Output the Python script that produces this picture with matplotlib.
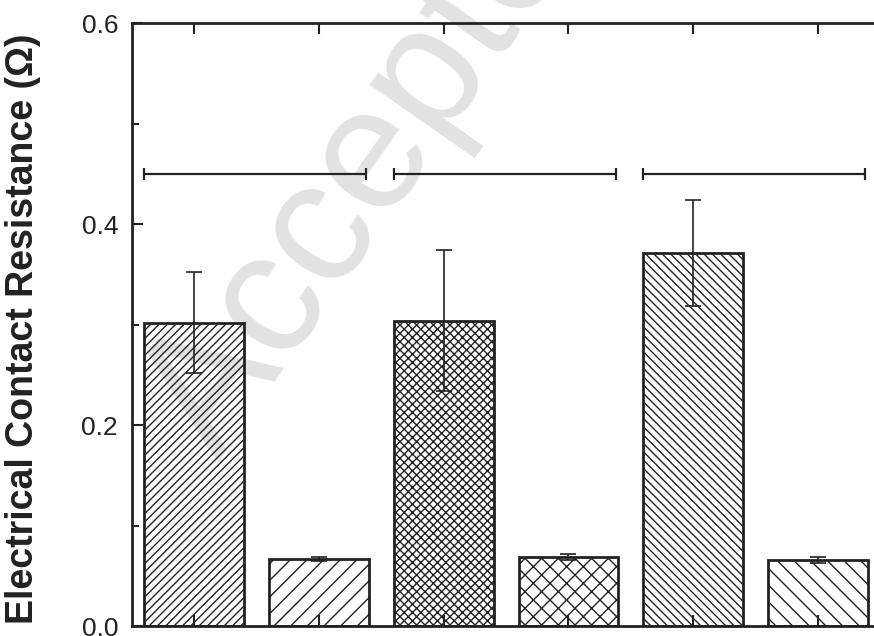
import matplotlib
matplotlib.use("Agg")
import matplotlib.pyplot as plt
from matplotlib.ticker import FixedLocator, FormatStrFormatter

plt.rcParams['font.family'] = ['Liberation Sans', 'DejaVu Sans']
plt.rcParams['hatch.linewidth'] = 1.0

# Bar data: contact resistance with standard deviation
positions = [1, 2, 3, 4, 5, 6]
resistance = [0.302, 0.067, 0.304, 0.069, 0.371, 0.066]
resistance_err = [0.050, 0.002, 0.070, 0.003, 0.053, 0.003]
hatches = ['////', '//', 'xxxx', 'xx', '\\\\\\\\', '\\\\']

# Group brackets spanning each pair of bars
bracket_left = [0.6, 2.6, 4.6]
bracket_right = [2.38, 4.38, 6.38]
bracket_level = 0.45

y_major = [0.0, 0.2, 0.4, 0.6]
y_minor = [0.1, 0.3, 0.5]

fig = plt.figure(figsize=(8.74, 6.36), dpi=100)
ax = fig.add_axes([0.151, 0.0157, 0.856, 0.948])
ax.patch.set_alpha(0)

# light watermark behind the plot
ax.text(218 / 874, 1 - 462 / 636, 'Accepted', transform=fig.transFigure,
        rotation=55, rotation_mode='anchor', ha='left', va='baseline',
        fontsize=125, color='#e2e2e2', zorder=0.5, clip_on=False)

for x, h, hatch in zip(positions, resistance, hatches):
    ax.bar(x, h, width=0.8, facecolor='none', edgecolor='#222222',
           linewidth=2.0, hatch=hatch, zorder=2)

ax.errorbar(positions, resistance, yerr=resistance_err, fmt='none',
            ecolor='#222222', elinewidth=1.2, capsize=6, capthick=1.2, zorder=3)

centers = [(l + r) / 2 for l, r in zip(bracket_left, bracket_right)]
half = [(r - l) / 2 for l, r in zip(bracket_left, bracket_right)]
ax.errorbar(centers, [bracket_level] * 3, xerr=half, fmt='none',
            ecolor='#222222', elinewidth=1.6, capsize=4, capthick=1.6, zorder=3)

ax.set_xlim(0.5, 6.5)
ax.set_ylim(0.0, 0.6)
ax.set_xticks(positions)
ax.set_xticklabels([])
ax.yaxis.set_major_locator(FixedLocator(y_major))
ax.yaxis.set_minor_locator(FixedLocator(y_minor))
ax.yaxis.set_major_formatter(FormatStrFormatter('%.1f'))

ax.tick_params(axis='both', which='major', direction='in', length=8,
               width=1.5, color='#222222', labelsize=19, labelcolor='#222222',
               pad=10, top=True, right=False)
ax.tick_params(axis='y', which='minor', direction='in', length=5,
               width=1.5, color='#222222')
for s in ax.spines.values():
    s.set_linewidth(2.0)
    s.set_color('#222222')

ax.set_ylabel('Electrical Contact Resistance (\u03a9)', fontsize=27,
              fontweight='bold', color='#222222')
ax.yaxis.set_label_coords(-0.122, 0.493)

fig.savefig('out.png', dpi=100)
